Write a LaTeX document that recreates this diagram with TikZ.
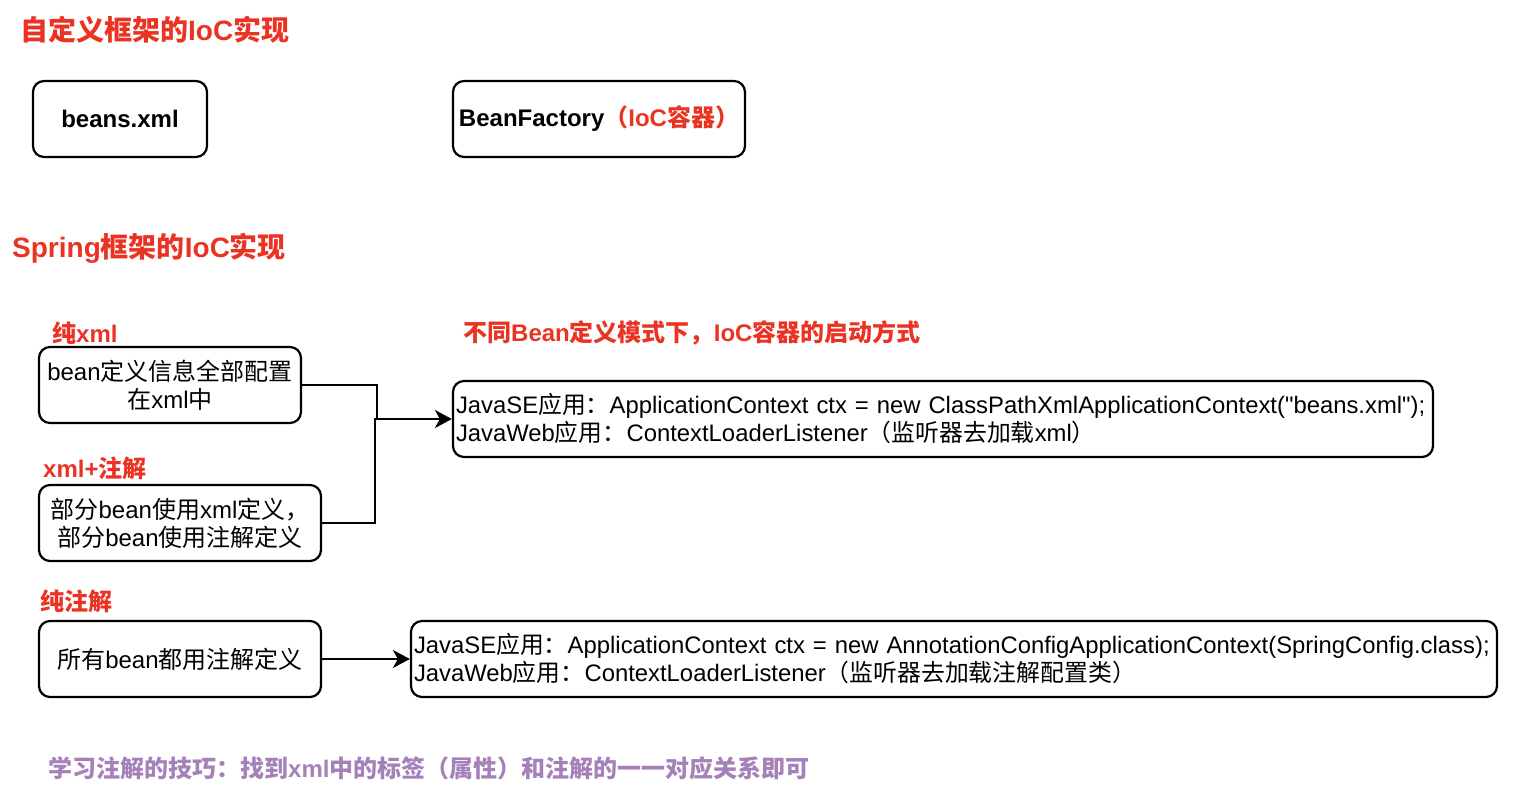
\documentclass[tikz,border=0pt]{standalone}
\usepackage{fontspec}
\setmainfont{Liberation Sans}
\newfontfamily\cjk{Noto Sans CJK SC}
\newcommand\C[1]{{\cjk #1}}
\usetikzlibrary{arrows.meta}
\definecolor{tred}{RGB}{234,51,35}
\definecolor{tpurple}{RGB}{166,128,184}
\begin{document}
\begin{tikzpicture}[x=1pt,y=-1pt,
 box/.style={draw,line width=2.2pt,rounded corners=11pt,inner sep=0pt,minimum height=76pt,align=center,font=\fontsize{24}{28}\selectfont},
 wbox/.style={draw,line width=2.2pt,rounded corners=11pt,inner xsep=3pt,inner ysep=0pt,minimum height=76pt,align=left,font=\fontsize{23.85}{28}\selectfont},
 lbl/.style={anchor=west,inner sep=0pt,text=tred,font=\fontsize{24}{28}\selectfont\bfseries},
 ttl/.style={anchor=west,inner sep=0pt,text=tred,font=\fontsize{28}{32}\selectfont\bfseries},
 note/.style={anchor=west,inner sep=0pt,text=tpurple,font=\fontsize{24}{28}\selectfont\bfseries},
 conn/.style={line width=2.2pt,-{Stealth[length=17pt,width=18pt,inset=5pt]}},
 wire/.style={line width=2.2pt}]
\useasboundingbox (0,0) rectangle (1518,798);

% titles
\node[ttl] (t1) at (20,30) {\C{自定义框架的}IoC\C{实现}};
\node[ttl] (t2) at (12,248) {Spring\C{框架的}IoC\C{实现}};

% top boxes
\node[box,minimum width=174pt,font=\fontsize{24}{28}\selectfont\bfseries] (bx) at (120,119) {beans.xml};
\node[box,minimum width=292pt,font=\fontsize{24}{28}\selectfont\bfseries] (bf) at (599,119) {BeanFactory\textcolor{tred}{\C{（}IoC\C{容器）}}};

% labels
\node[lbl] (l1) at (52,333) {\C{纯}xml};
\node[lbl] (l2) at (43,468) {xml+\C{注解}};
\node[lbl] (l3) at (40,601) {\C{纯注解}};
\node[lbl] (l4) at (463,333) {\C{不同}Bean\C{定义模式下，}IoC\C{容器的启动方式}};

% left boxes
\node[box,minimum width=262pt] (b1) at (170,385) {bean\C{定义信息全部配置}\\\C{在}xml\C{中}};
\node[box,minimum width=282pt] (b2) at (180,523) {\C{部分}bean\C{使用}xml\C{定义，}\\\C{部分}bean\C{使用注解定义}};
\node[box,minimum width=282pt] (b3) at (180,659) {\C{所有}bean\C{都用注解定义}};

% right boxes
\node[wbox,text width=974pt] (b4) at (943,419) {\mbox{JavaSE\C{应用：}ApplicationContext ctx = new ClassPathXmlApplicationContext(\textquotedbl beans.xml\textquotedbl);}\\\mbox{JavaWeb\C{应用：}ContextLoaderListener\C{（监听器去加载}xml\C{）}}};
\node[wbox,text width=1080pt] (b5) at (954,659) {\mbox{JavaSE\C{应用：}ApplicationContext ctx = new AnnotationConfigApplicationContext(SpringConfig.class);}\\\mbox{JavaWeb\C{应用：}ContextLoaderListener\C{（监听器去加载注解配置类）}}};

% connectors
\coordinate (j1) at (377,419);
\coordinate (j2) at (375,419);
\draw[wire] (b1.east) -| (j1);
\draw[conn] (b2.east) -| (j2) -- (b4.west);
\draw[conn] (b3.east) -- (b5.west);

% note
\node[note] (nt) at (48,768) {\C{学习注解的技巧：找到}xml\C{中的标签（属性）和注解的一一对应关系即可}};
\end{tikzpicture}
\end{document}
